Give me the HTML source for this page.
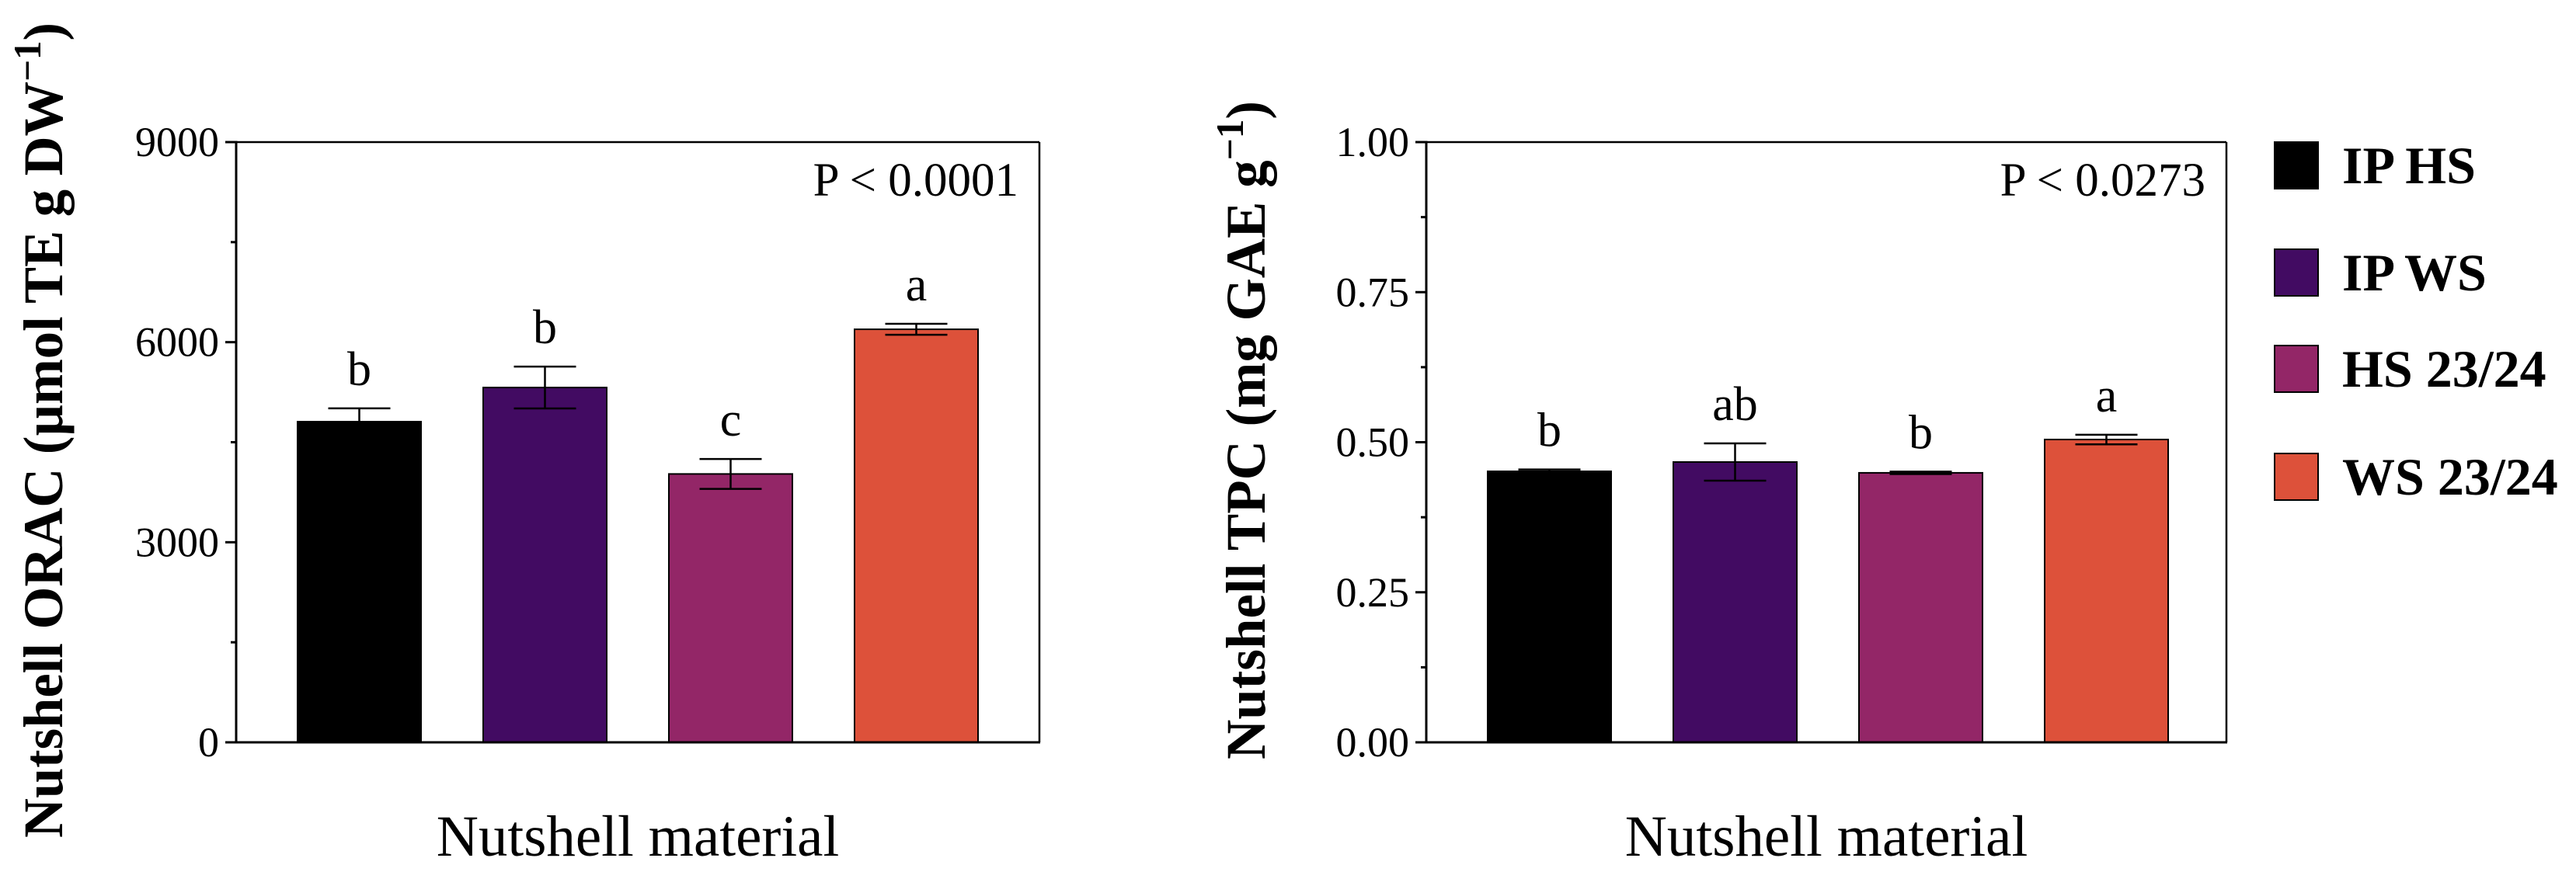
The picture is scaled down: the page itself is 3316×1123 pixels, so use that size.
<!DOCTYPE html>
<html><head><meta charset="utf-8"><style>
html,body{margin:0;padding:0;background:#fff;}
svg{display:block;font-family:"Liberation Serif","Times New Roman",serif;}
svg text{font-family:"Liberation Serif","Times New Roman",serif;}
</style></head><body>
<svg id="fig" width="3316" height="1123" viewBox="0 0 3316 1123" xmlns="http://www.w3.org/2000/svg" font-family="Liberation Serif, serif">
<g id="left"></g>
<g id="right"></g>
<g id="legend"></g>
</svg>
<script>
const categories = ["IP HS","IP WS","HS 23/24","WS 23/24"];
const colors = ["#000000","#420b62","#932667","#dd513a"];
const oracValues = [4808, 5320, 4024, 6193];
const oracErrors = [200, 314, 224, 82];
const oracLetters = ["b","b","c","a"];
const oracTicks = [0, 3000, 6000, 9000];
const oracTickLabels = ["0","3000","6000","9000"];
const tpcValues = [0.4515, 0.467, 0.449, 0.5045];
const tpcErrors = [0.003, 0.031, 0.002, 0.008];
const tpcLetters = ["b","ab","b","a"];
const tpcTicks = [0, 0.25, 0.5, 0.75, 1.0];
const tpcTickLabels = ["0.00","0.25","0.50","0.75","1.00"];

const NS = "http://www.w3.org/2000/svg";
const FF = "Liberation Serif, serif";
function mk(parent, tag, attrs, text){
  const e = document.createElementNS(NS, tag);
  for (const k in attrs) e.setAttribute(k, attrs[k]);
  if (tag === "text") e.setAttribute("font-family", FF);
  if (text !== undefined) e.textContent = text;
  parent.appendChild(e);
  return e;
}

function drawChart(g, cfg){
  const top = 183, bottom = 956;
  const y = v => bottom - (v - cfg.min) / (cfg.max - cfg.min) * (bottom - top);
  const xL = cfg.left, xR = cfg.right;
  const slot = 239, barW = 159, first = xL + 79;
  let e = mk(g, "line", {x1:xL, y1:top, x2:xR, y2:top, stroke:"#000", "stroke-width":2.5});
  
  
  e = mk(g, "line", {x1:xR, y1:top, x2:xR, y2:bottom, stroke:"#000", "stroke-width":2.5});
  
  
  cfg.values.forEach((v, i) => {
    const bx = first + i * slot;
    const r = mk(g, "rect", {x:bx, y:y(v), width:barW, height:bottom - y(v), fill:colors[i], stroke:"#000", "stroke-width":2});
    
    
    const cx = bx + barW / 2;
    const hi = y(v + cfg.errors[i]), lo = y(v - cfg.errors[i]);
    const eg = mk(g, "g", {stroke:"#000", "stroke-width":2.5});
    
    
    mk(eg, "line", {x1:cx, y1:hi, x2:cx, y2:lo});
    mk(eg, "line", {x1:cx - 40, y1:hi, x2:cx + 40, y2:hi});
    mk(eg, "line", {x1:cx - 40, y1:lo, x2:cx + 40, y2:lo});
    const t = mk(g, "text", {x:cx, y:hi - 30, "text-anchor":"middle", "font-size":62}, cfg.letters[i]);
    
    
  });
  e = mk(g, "line", {x1:xL, y1:top - 1.5, x2:xL, y2:bottom + 1.5, stroke:"#000", "stroke-width":3});
  
  
  e = mk(g, "line", {x1:xL - 14, y1:bottom, x2:xR + 1, y2:bottom, stroke:"#000", "stroke-width":3});
  
  
  cfg.ticks.forEach((tv, i) => {
    const ty = y(tv);
    const tk = mk(g, "line", {x1:xL - 14, y1:ty, x2:xL, y2:ty, stroke:"#000", "stroke-width":3});
    
    
    const lb = mk(g, "text", {x:xL - 22, y:ty + 18, "text-anchor":"end", "font-size":54}, cfg.tickLabels[i]);
    
    
    if (i < cfg.ticks.length - 1) {
      const my = y((tv + cfg.ticks[i + 1]) / 2);
      const mt = mk(g, "line", {x1:xL - 7, y1:my, x2:xL, y2:my, stroke:"#000", "stroke-width":3});
      
      
    }
  });
  const p = mk(g, "text", {x:xR - 27, y:252, "text-anchor":"end", "font-size":61}, cfg.pText);
  
  
  const xt = mk(g, "text", {x:(xL + xR) / 2, y:1102, "text-anchor":"middle", "font-size":75}, "Nutshell material");
  
  
  const yt = mk(g, "text", {x:0, y:0, "text-anchor":"middle", "font-size":72, "font-weight":"bold",
    transform:"translate(" + cfg.titleX + ",554) rotate(-90)", textLength:cfg.titleLen, lengthAdjust:"spacingAndGlyphs"});
  
  
  mk(yt, "tspan", {}, cfg.title);
  mk(yt, "tspan", {"baseline-shift":"super", "font-size":50}, "\u22121");
  mk(yt, "tspan", {}, ")");
}

drawChart(document.getElementById("left"), {
  left:304, right:1338, min:0, max:9000, values:oracValues, errors:oracErrors, letters:oracLetters,
  ticks:oracTicks, tickLabels:oracTickLabels, pText:"P < 0.0001",
  title:"Nutshell ORAC (\u00b5mol TE g DW", titleX:80, titleLen:1050
});
drawChart(document.getElementById("right"), {
  left:1836, right:2866, min:0, max:1, values:tpcValues, errors:tpcErrors, letters:tpcLetters,
  ticks:tpcTicks, tickLabels:tpcTickLabels, pText:"P < 0.0273",
  title:"Nutshell TPC (mg GAE g", titleX:1628, titleLen:848
});

const legendBoxTops = [183, 321, 445, 584];
const lg = document.getElementById("legend");
categories.forEach((c, i) => {
  const item = mk(lg, "g", {});
  
  
  mk(item, "rect", {x:2928, y:legendBoxTops[i], width:56, height:60, fill:colors[i], stroke:"#000", "stroke-width":2});
  mk(item, "text", {x:3015, y:legendBoxTops[i] + 53, "font-size":68, "font-weight":"bold"}, c);
});
</script>
</body></html>
